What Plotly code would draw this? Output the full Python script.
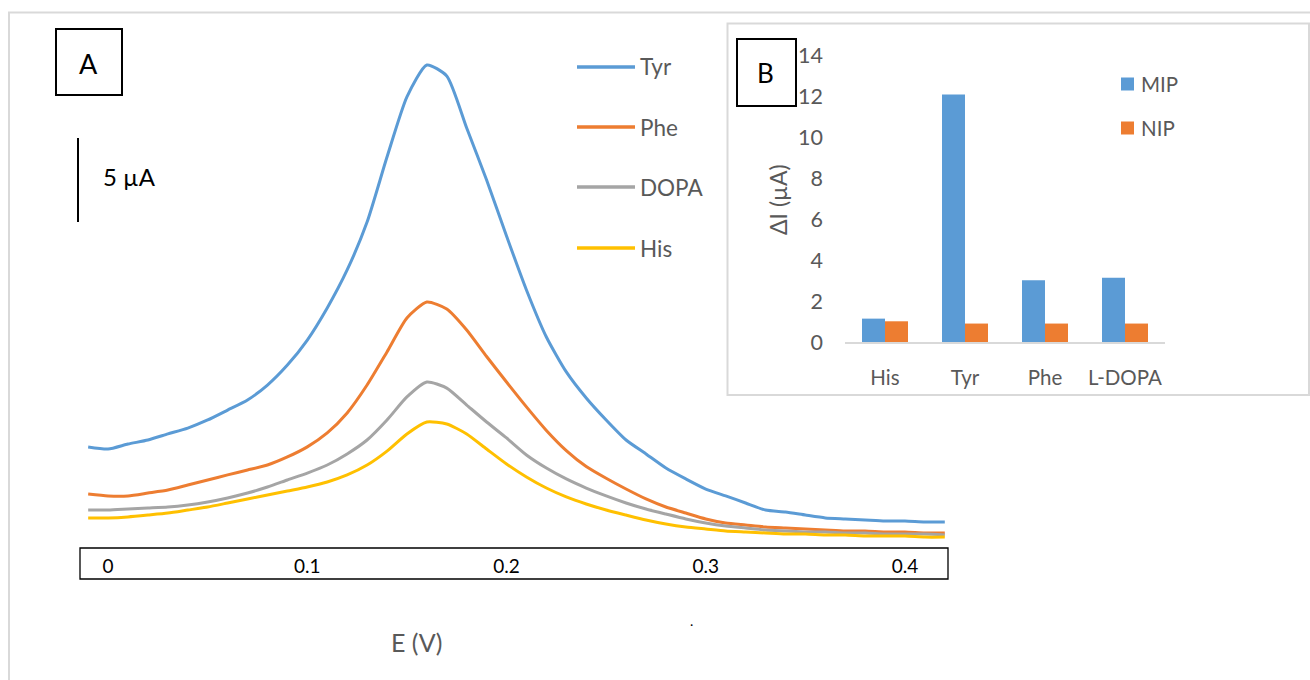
import plotly.graph_objects as go

# ---------------- data ----------------
E_V = [-0.01, 0.00, 0.01, 0.02, 0.03, 0.04, 0.05, 0.06, 0.07, 0.08, 0.09,
       0.10, 0.11, 0.12, 0.13, 0.14, 0.15, 0.16, 0.17, 0.18, 0.19,
       0.20, 0.21, 0.22, 0.23, 0.24, 0.25, 0.26, 0.27, 0.28, 0.29,
       0.30, 0.31, 0.32, 0.33, 0.34, 0.35, 0.36, 0.37, 0.38, 0.39,
       0.40, 0.41, 0.42]

tyr = [6.01, 5.89, 6.19, 6.43, 6.79, 7.14, 7.62, 8.21, 8.81, 9.70, 10.89,
       12.38, 14.29, 16.55, 19.40, 23.27, 26.85, 28.75, 28.10, 25.00, 21.90,
       18.57, 15.36, 12.56, 10.48, 8.93, 7.62, 6.43, 5.60, 4.76, 4.11,
       3.51, 3.10, 2.68, 2.26, 2.14, 1.96, 1.79, 1.73, 1.67, 1.61,
       1.61, 1.55, 1.55]
phe = [3.21, 3.10, 3.10, 3.27, 3.45, 3.75, 4.05, 4.35, 4.64, 4.94, 5.42,
       6.02, 6.85, 8.04, 9.70, 11.67, 13.69, 14.64, 14.23, 12.98, 11.40,
       9.88, 8.40, 7.00, 5.80, 4.85, 4.15, 3.51, 2.92, 2.44, 2.08,
       1.73, 1.49, 1.37, 1.25, 1.19, 1.13, 1.07, 1.01, 1.01, 0.95,
       0.95, 0.89, 0.89]
dopa = [2.26, 2.26, 2.32, 2.38, 2.44, 2.56, 2.74, 2.98, 3.27, 3.63, 4.05,
        4.46, 4.94, 5.60, 6.43, 7.62, 8.99, 9.88, 9.52, 8.51, 7.50,
        6.55, 5.54, 4.76, 4.11, 3.57, 3.10, 2.68, 2.32, 2.02, 1.73,
        1.49, 1.31, 1.19, 1.07, 1.01, 0.95, 0.95, 0.89, 0.89, 0.83,
        0.83, 0.83, 0.77]
his = [1.79, 1.79, 1.85, 1.96, 2.08, 2.26, 2.44, 2.68, 2.92, 3.15, 3.39,
       3.63, 3.93, 4.35, 4.94, 5.77, 6.79, 7.50, 7.38, 6.79, 5.89,
       5.00, 4.23, 3.57, 3.04, 2.62, 2.26, 1.96, 1.67, 1.43, 1.25,
       1.13, 1.01, 0.95, 0.89, 0.83, 0.83, 0.77, 0.77, 0.71, 0.71,
       0.71, 0.65, 0.65]

curve_names = ["Tyr", "Phe", "DOPA", "His"]
curve_data = [tyr, phe, dopa, his]
curve_colors = ["#5B9BD5", "#ED7D31", "#A5A5A5", "#FFC000"]

x_tick_vals = [0, 0.1, 0.2, 0.3, 0.4]
x_tick_text = ["0", "0.1", "0.2", "0.3", "0.4"]

bar_categories = ["His", "Tyr", "Phe", "L-DOPA"]
mip = [1.14, 12.07, 3.01, 3.14]
nip = [1.01, 0.90, 0.90, 0.90]
bar_names = ["MIP", "NIP"]
bar_colors = ["#5B9BD5", "#ED7D31"]

scale_bar_uA = 5

# ---------------- helpers (pixel -> paper) ----------------
W, H = 1310, 680
def px(x):
    return x / W
def py(y):
    return 1 - y / H

FONT = "Lato, Carlito, 'Open Sans', sans-serif"
GREY_TXT = "#595959"
FRAME = "#D9D9D9"
UA_PX = 16.8  # pixels per µA in panel A

fig = go.Figure()

for name, vals, col in zip(curve_names, curve_data, curve_colors):
    fig.add_trace(go.Scatter(x=E_V, y=vals, mode="lines", name=name,
                             line=dict(color=col, width=3, shape="spline", smoothing=0.6),
                             showlegend=False, xaxis="x", yaxis="y"))

for name, vals, col in zip(bar_names, [mip, nip], bar_colors):
    fig.add_trace(go.Bar(x=bar_categories, y=vals, name=name, marker_color=col,
                         marker_line_width=0, showlegend=False,
                         xaxis="x2", yaxis="y2"))

shapes = []
annotations = []

def text(t, x, y, size, color, xanchor="center", angle=0):
    annotations.append(dict(text=t, xref="paper", yref="paper", x=px(x), y=py(y),
                            xanchor=xanchor, yanchor="middle", showarrow=False,
                            textangle=angle,
                            font=dict(size=size, color=color, family=FONT)))

# outer frame
shapes.append(dict(type="rect", xref="paper", yref="paper",
                   x0=px(9), x1=px(1318), y0=py(12.5), y1=py(690),
                   line=dict(color=FRAME, width=2), layer="below"))
# inset frame
shapes.append(dict(type="rect", xref="paper", yref="paper",
                   x0=px(727.5), x1=px(1309), y0=py(23.5), y1=py(395),
                   line=dict(color=FRAME, width=2), fillcolor="white", layer="below"))
# x-axis box of the voltammograms
shapes.append(dict(type="rect", xref="paper", yref="paper",
                   x0=px(80), x1=px(948), y0=py(548), y1=py(579),
                   line=dict(color="black", width=1.3)))
# box A / box B
shapes.append(dict(type="rect", xref="paper", yref="paper",
                   x0=px(56), x1=px(122), y0=py(29), y1=py(95),
                   line=dict(color="black", width=2)))
shapes.append(dict(type="rect", xref="paper", yref="paper",
                   x0=px(737), x1=px(796), y0=py(39), y1=py(106),
                   line=dict(color="black", width=2)))
text("A", 88.5, 63, 27, "black")
text("B", 765, 73, 26, "black")

# scale bar
shapes.append(dict(type="line", xref="paper", yref="y", x0=px(78), x1=px(78),
                   y0=(548 - 222) / UA_PX, y1=(548 - 222) / UA_PX + scale_bar_uA,
                   line=dict(color="black", width=2)))
text(f"{scale_bar_uA} µA", 101, 177, 24, "black", xanchor="left")

# legend of panel A
leg_y = [67, 127, 187, 248]
for name, col, yy in zip(curve_names, curve_colors, leg_y):
    shapes.append(dict(type="line", xref="paper", yref="paper",
                       x0=px(577), x1=px(635), y0=py(yy), y1=py(yy),
                       line=dict(color=col, width=3.5)))
    text(name, 638, yy, 22.5, GREY_TXT, xanchor="left")

# x title A
text("E (V)", 416, 642, 25, GREY_TXT)
text(".", 692, 620, 14, "black")

# legend of panel B
leg_b_y = [84, 128]
for name, col, yy in zip(bar_names, bar_colors, leg_b_y):
    shapes.append(dict(type="rect", xref="paper", yref="paper",
                       x0=px(1121), x1=px(1134), y0=py(yy - 6.5), y1=py(yy + 6.5),
                       line=dict(width=0), fillcolor=col))
    text(name, 1139, yy, 20.5, GREY_TXT, xanchor="left")

# y title B
text("ΔI (µA)", 778, 200, 23, GREY_TXT, angle=-90)

fig.update_layout(
    width=W, height=H, margin=dict(l=0, r=0, t=0, b=0, pad=0, autoexpand=False),
    paper_bgcolor="white", plot_bgcolor="rgba(0,0,0,0)",
    font=dict(family=FONT),
    xaxis=dict(domain=[px(80), px(948)], range=[-0.0141, 0.4216],
               showgrid=False, zeroline=False, showline=False, automargin=False,
               tickvals=x_tick_vals, ticktext=x_tick_text, ticks="",
               ticklabelstandoff=5,
               tickfont=dict(size=19, color="black", family=FONT), anchor="y"),
    yaxis=dict(domain=[py(548), py(40)], range=[0, 508 / UA_PX], visible=False,
               automargin=False, anchor="x"),
    xaxis2=dict(domain=[px(845), px(1165)], anchor="y2", showgrid=False,
                showline=True, linecolor=FRAME, linewidth=2, ticks="",
                ticklabelstandoff=16, automargin=False,
                tickfont=dict(size=20.5, color=GREY_TXT, family=FONT)),
    yaxis2=dict(domain=[py(342), py(55)], range=[0, 14], anchor="x2",
                showgrid=False, zeroline=False, showline=False, ticks="",
                dtick=2, ticklabelstandoff=21, automargin=False,
                tickfont=dict(size=21.5, color=GREY_TXT, family=FONT)),
    bargap=0.425, bargroupgap=0, barmode="group",
    shapes=shapes, annotations=annotations,
)

fig.write_html("out.html")
